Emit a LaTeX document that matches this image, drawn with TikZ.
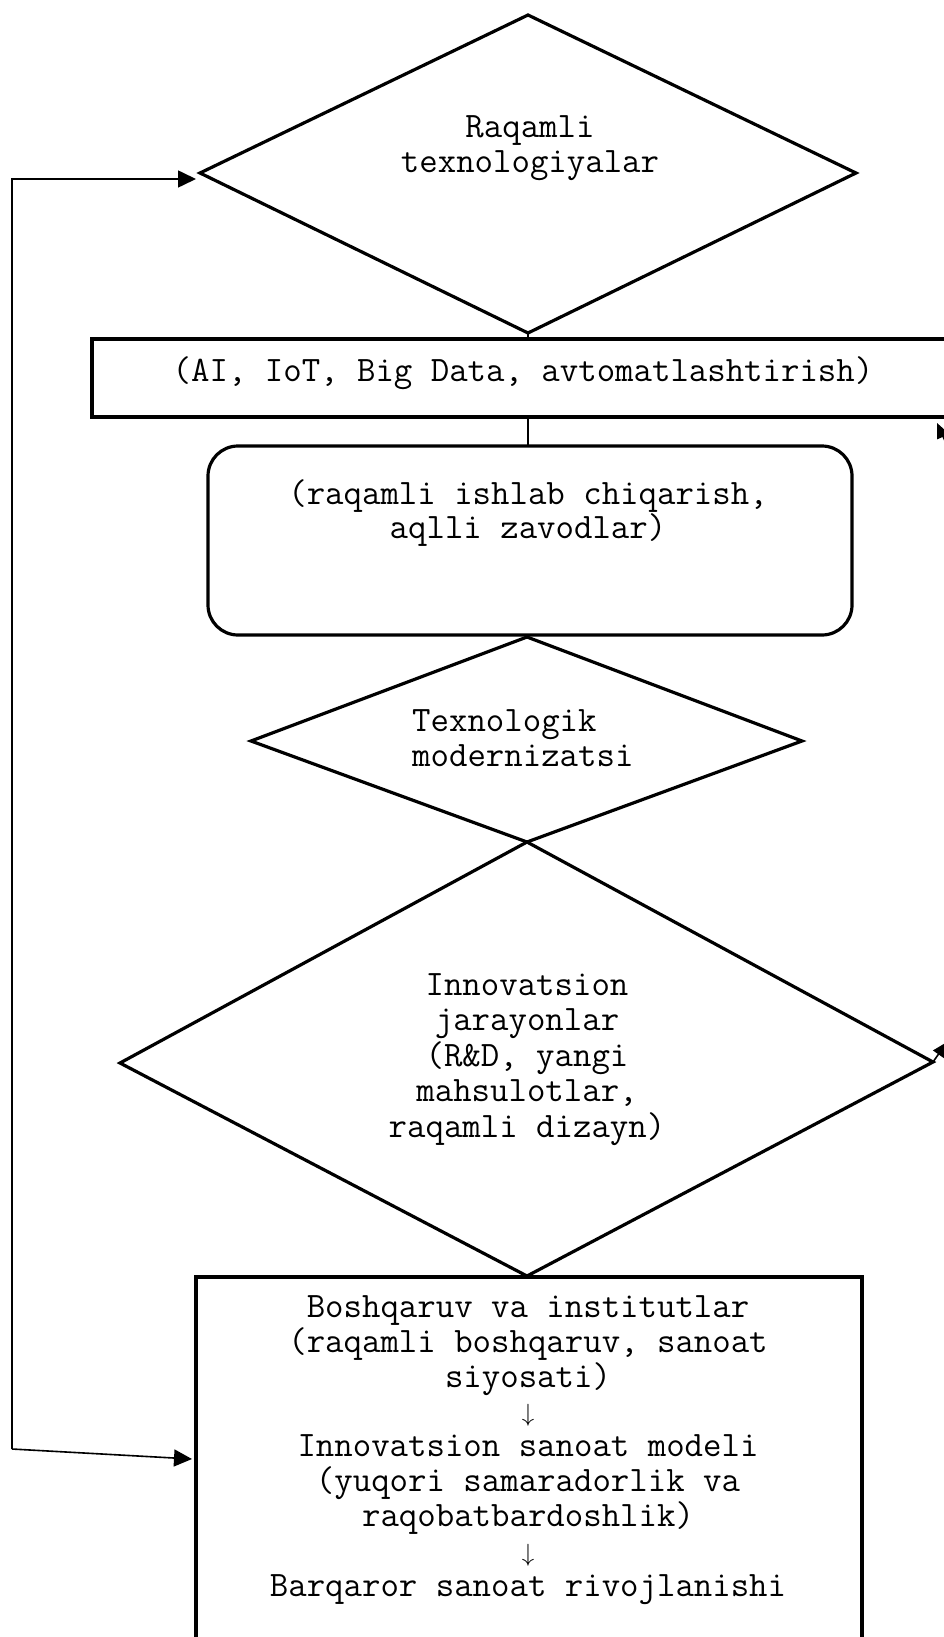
\documentclass[tikz,border=0pt]{standalone}
\usepackage{fontspec}
\usetikzlibrary{arrows.meta}
\begin{document}
\begin{tikzpicture}[x=1pt,y=-1pt,
  shapeline/.style={line width=3.2pt, line join=miter},
  conn/.style={line width=1.2pt},
  fbline/.style={line width=1.6pt, -{Triangle[length=18pt,width=17pt]}},
  sidearrow/.style={line width=1.6pt, -{Triangle[length=15pt,width=13pt]}},
  lbl/.style={inner sep=0pt, align=center, font=\ttfamily\fontsize{35.8}{34.7}\selectfont},
]
\useasboundingbox (0,0) rectangle (944,1637);
\clip (0,0) rectangle (944,1637);

% top diamond
\coordinate (d1n) at (528,15);
\coordinate (d1e) at (856,173);
\coordinate (d1s) at (528,333);
\coordinate (d1w) at (200,173);
\draw[shapeline] (d1n) -- (d1e) -- (d1s) -- (d1w) -- cycle;
\node[lbl] (t1) at (530,148) {Raqamli\\texnologiyalar};

% rectangle 1
\coordinate (r1nw) at (92,339);
\coordinate (r1se) at (952,417);
\coordinate (r1n) at (528,339);
\coordinate (r1s) at (528,417);
\draw[shapeline] (r1nw) rectangle (r1se);
\node[lbl] (t2) at (523,373) {(AI, IoT, Big Data, avtomatlashtirish)};

% rounded rectangle
\coordinate (rrnw) at (208,446);
\coordinate (rrse) at (852,635);
\coordinate (rrn) at (528,446);
\draw[shapeline, rounded corners=30pt] (rrnw) rectangle (rrse);
\node[lbl, font=\ttfamily\fontsize{35.8}{32.5}\selectfont] (t3) at (528,513) {(raqamli ishlab chiqarish,\\aqlli zavodlar)};

% diamond 2
\coordinate (d2n) at (527,637);
\coordinate (d2e) at (802,741);
\coordinate (d2s) at (527,842);
\coordinate (d2w) at (251,741);
\draw[shapeline] (d2n) -- (d2e) -- (d2s) -- (d2w) -- cycle;
\node[lbl, align=left, anchor=west] (t4) at (412,738) {Texnologik\\modernizatsi};

% diamond 3
\coordinate (d3n) at (527,842);
\coordinate (d3e) at (933,1062);
\coordinate (d3s) at (527,1276);
\coordinate (d3w) at (120,1063);
\draw[shapeline] (d3n) -- (d3e) -- (d3s) -- (d3w) -- cycle;
\node[lbl, font=\ttfamily\fontsize{35.8}{35.6}\selectfont] (t5) at (527,1059.5) {Innovatsion\\jarayonlar\\(R\&D, yangi\\mahsulotlar,\\raqamli dizayn)};

% bottom rectangle
\coordinate (r3nw) at (196,1277);
\coordinate (r3se) at (862,1660);
\draw[shapeline] (r3nw) rectangle (r3se);
\node[lbl, font=\ttfamily\fontsize{35.8}{34.9}\selectfont] (t6) at (528,1450) {Boshqaruv va institutlar\\(raqamli boshqaruv, sanoat\\siyosati)\\$\downarrow$\\Innovatsion sanoat modeli\\(yuqori samaradorlik va\\raqobatbardoshlik)\\$\downarrow$\\Barqaror sanoat rivojlanishi};

% connectors between shapes
\draw[conn] (d1s) -- (r1n);
\draw[conn] (r1s) -- (rrn);

% feedback loop
\coordinate (fb) at (12,1449);
\coordinate (fbtop) at (196,179);
\coordinate (fbbot) at (192,1459);
\draw[fbline] (fb) |- (fbtop);
\draw[fbline] (fb) -- (fbbot);

% arrows leaving at the right edge
\coordinate (ra1s) at (950,452);
\coordinate (ra1t) at (937,423);
\draw[sidearrow] (ra1s) -- (ra1t);
\coordinate (ra2t) at (947,1042);
\draw[sidearrow] (d3e) -- (ra2t);
\end{tikzpicture}
\end{document}
